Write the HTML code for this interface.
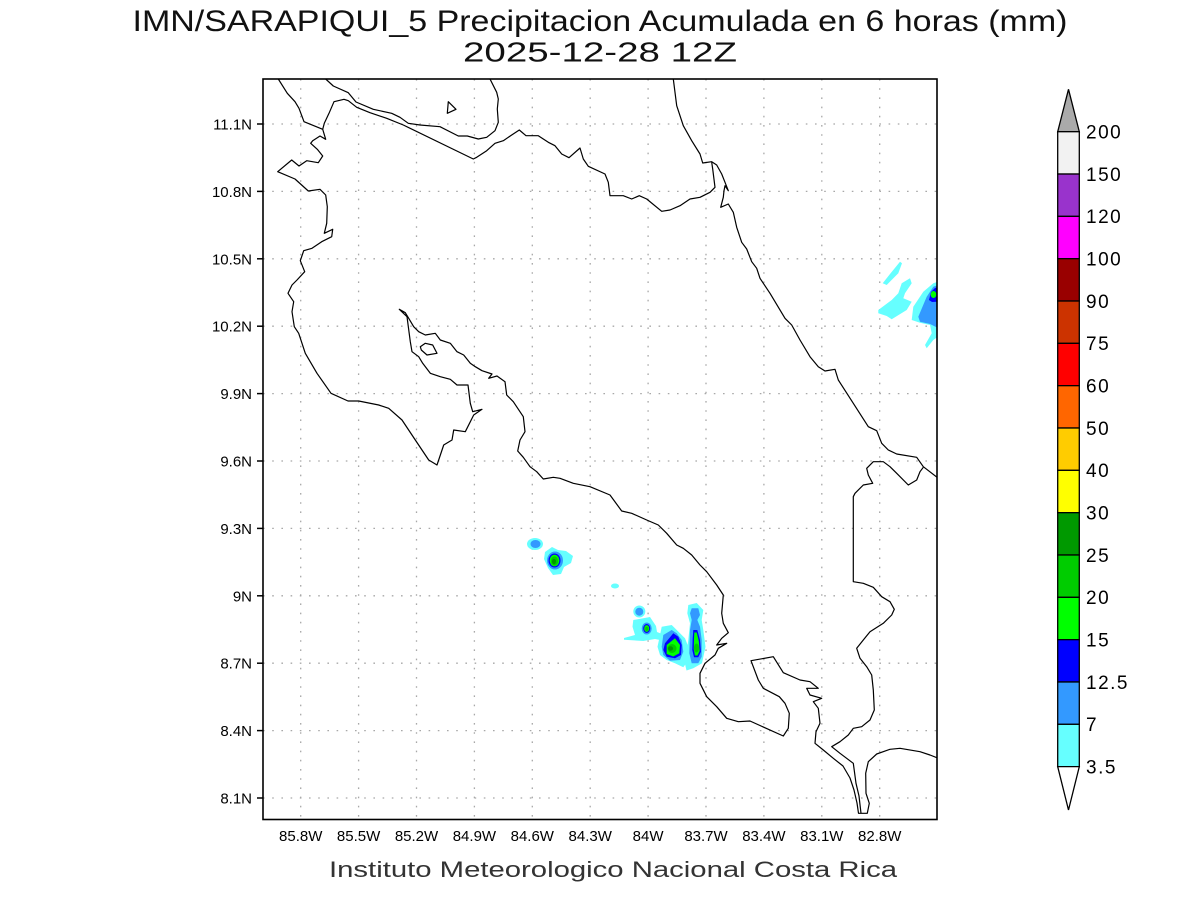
<!DOCTYPE html>
<html>
<head>
<meta charset="utf-8">
<style>
html,body{margin:0;padding:0;background:#fff;}
svg{display:block;}
text{font-family:"Liberation Sans",sans-serif;}
</style>
</head>
<body>
<svg width="1200" height="900" viewBox="0 0 1200 900" xmlns="http://www.w3.org/2000/svg">
<defs>
<clipPath id="plot"><rect x="263" y="79" width="674" height="740.5"/></clipPath>
</defs>
<rect width="1200" height="900" fill="#fff"/>

<!-- Titles -->
<text x="600" y="31" font-size="30" text-anchor="middle" textLength="935" lengthAdjust="spacingAndGlyphs" fill="#111">IMN/SARAPIQUI_5 Precipitacion Acumulada en 6 horas (mm)</text>
<text x="600" y="61.5" font-size="28" text-anchor="middle" textLength="274" lengthAdjust="spacingAndGlyphs" fill="#111">2025-12-28 12Z</text>

<!-- Grid -->
<g stroke="#a8a8a8" stroke-width="1.3" stroke-dasharray="1.6 7.6" fill="none">
<line x1="300.7" y1="79" x2="300.7" y2="820"/>
<line x1="358.6" y1="79" x2="358.6" y2="820"/>
<line x1="416.5" y1="79" x2="416.5" y2="820"/>
<line x1="474.4" y1="79" x2="474.4" y2="820"/>
<line x1="532.3" y1="79" x2="532.3" y2="820"/>
<line x1="590.2" y1="79" x2="590.2" y2="820"/>
<line x1="648.1" y1="79" x2="648.1" y2="820"/>
<line x1="706" y1="79" x2="706" y2="820"/>
<line x1="763.9" y1="79" x2="763.9" y2="820"/>
<line x1="821.8" y1="79" x2="821.8" y2="820"/>
<line x1="879.7" y1="79" x2="879.7" y2="820"/>
<line x1="263" y1="124" x2="937" y2="124"/>
<line x1="263" y1="191.4" x2="937" y2="191.4"/>
<line x1="263" y1="258.8" x2="937" y2="258.8"/>
<line x1="263" y1="326.2" x2="937" y2="326.2"/>
<line x1="263" y1="393.6" x2="937" y2="393.6"/>
<line x1="263" y1="461" x2="937" y2="461"/>
<line x1="263" y1="528.4" x2="937" y2="528.4"/>
<line x1="263" y1="595.8" x2="937" y2="595.8"/>
<line x1="263" y1="663.2" x2="937" y2="663.2"/>
<line x1="263" y1="730.6" x2="937" y2="730.6"/>
<line x1="263" y1="798" x2="937" y2="798"/>
</g>

<!-- Precipitation -->
<g clip-path="url(#plot)">
<!-- blob A -->
<ellipse cx="535" cy="544" rx="8" ry="6" fill="#66ffff"/>
<ellipse cx="535.5" cy="544" rx="5" ry="4" fill="#3399ff"/>
<!-- blob B -->
<path d="M545,552 L552,547 L558,550 L566,551 L573,556 L571,563 L564,567 L561,574 L553,575 L548,568 L544,559 Z" fill="#66ffff"/>
<ellipse cx="555" cy="560.5" rx="8" ry="9" fill="#3399ff"/>
<ellipse cx="554.5" cy="560.5" rx="6" ry="7" fill="#0000ff"/>
<ellipse cx="554.5" cy="560.5" rx="4.8" ry="5.8" fill="#00ff00"/>
<ellipse cx="554.5" cy="561" rx="3.6" ry="4.6" fill="#00cc00"/>
<ellipse cx="554" cy="561.5" rx="2" ry="2.8" fill="#009900"/>
<ellipse cx="615" cy="586" rx="4" ry="2.5" fill="#66ffff"/>

<!-- southern cluster -->
<ellipse cx="639.3" cy="611.5" rx="6" ry="6" fill="#66ffff"/>
<path d="M633.3,620 L650,617 L656,626 L657,632 L662,634 L660,640 L655,639 L643.3,641 L624,639.8 L624,638 L635,635 L632.5,626.7 Z" fill="#66ffff"/>
<path d="M661.7,626.7 L671.7,625 L680,633.3 L685,638.3 L688.3,646.7 L687.3,661.7 L683.3,667.3 L675,663.3 L666.7,660 L660,655 L657.5,646.7 L660,635 Z" fill="#66ffff"/>
<path d="M688.3,605 L696.7,603 L703.3,610 L701.7,620 L703.3,630 L705.5,646.7 L702,663.3 L693.3,668.3 L686.5,670.5 L685,664 L688.3,640 L690,623.3 L687.3,613.3 Z" fill="#66ffff"/>
<ellipse cx="639.3" cy="611.7" rx="4" ry="4" fill="#3399ff"/>
<ellipse cx="646.7" cy="628.5" rx="5" ry="6" fill="#3399ff"/>
<ellipse cx="646.7" cy="628.5" rx="3.5" ry="4.5" fill="#0000ff"/>
<ellipse cx="646.7" cy="628.5" rx="2.5" ry="3.4" fill="#00ff00"/>
<ellipse cx="646.7" cy="628.8" rx="1.5" ry="2.2" fill="#00cc00"/>
<path d="M663.3,635 L671.7,630 L676.7,633.3 L681.7,640 L683.3,651.7 L680,660 L670,660.7 L663.3,655 L661.7,646.7 Z" fill="#3399ff"/>
<path d="M665,643.3 L673.3,633.3 L678.3,636.7 L681.7,645 L681,655 L675,658.3 L666.7,656.7 L663.3,650 Z" fill="#0000ff"/>
<path d="M666.7,645 L675,638.3 L680,645 L679.3,653.3 L673.3,656.5 L666.7,654 Z" fill="#00ff00"/>
<ellipse cx="672" cy="648.5" rx="4.5" ry="4.5" fill="#00cc00"/>
<ellipse cx="670.5" cy="648.5" rx="2.6" ry="2.2" fill="#009900"/>
<path d="M691.7,608.3 L698.3,608.3 L700,615 L697.3,620 L700,626.7 L701.7,640 L701.7,656.7 L698.3,663.3 L691.7,663.3 L689.3,653.3 L690,630 L691.7,620 L690,613.3 Z" fill="#3399ff"/>
<path d="M693.3,630 L697.3,630 L700,640 L701,651.7 L698.3,657.3 L694,657.3 L692.3,650 L692.7,638.3 Z" fill="#0000ff"/>
<path d="M694.3,632.5 L696.7,632.5 L698.8,641 L699.6,651 L697.5,655.5 L695,655.5 L693.7,649 L694,639 Z" fill="#00ff00"/>
<ellipse cx="696.5" cy="648" rx="2.5" ry="4.5" fill="#00cc00"/>

<!-- east precip -->
<path d="M882.7,283.3 L890,274 L900,261.7 L902,263.3 L898.3,273.3 L886.7,285 Z" fill="#66ffff"/>
<path d="M878.3,310 L891.7,300 L898.3,293.3 L901.7,283.3 L910,278.3 L911.7,283.3 L905,293.3 L903.3,298.3 L911.7,301.7 L906.7,310 L891.7,319.3 L886.7,316 L878.3,313.3 Z" fill="#66ffff"/>
<path d="M911.7,320 L913.3,306.7 L923.3,291.7 L933.3,283.3 L938,281.7 L938,336.7 L933.3,340 L926.7,348.3 L925,345 L931.7,333.3 L930,325 L920,322.7 Z" fill="#66ffff"/>
<path d="M918.3,316.7 L926.7,296.7 L933.3,286.7 L938,285 L938,328 L930,324 L920,321.7 Z" fill="#3399ff"/>
<path d="M929,300 L931,292 L935,288 L938,287 L938,301.7 L932,302 Z" fill="#0000ff"/>
<ellipse cx="933.5" cy="294.5" rx="2.8" ry="3.5" fill="#00ff00"/>
</g>

<!-- Coastlines -->
<g clip-path="url(#plot)" fill="none" stroke="#000" stroke-width="1.2" stroke-linejoin="round">
<polyline points="278.3,79 287.3,93.3 295,101.7 299,108.3 304,121.7 322.7,129.3 325.7,139.3 320,136 312.7,140.7 310.7,143.3 317.3,149.3 322.7,156 318.3,162.7 306.7,160.7 299,166 291.7,160 277.7,171.7 295,179 308.3,191 320,189.3 325.7,195 327.3,206.7 326.7,223.3 324.3,233.3 332.7,229.3 331.7,236.7 321.7,241.7 312,248.3 303.7,250.7 300.3,260.7 304.7,271.7 297,280 292,285 288,293.3 293.7,301.7 292,311.7 294.3,326.7 298.7,333.3 305.3,353.3 317,373.3 331,393.3 348,401 358.7,401 378.7,405 388.7,408.3 402,420 415.3,440 428.7,460 437,465 443.7,445 452,440 453.7,430 465.3,431.7 473.7,415 482,409.3 472.7,411.7 470.3,403.3 468,385 457,385 450.3,379.3 440.3,376.7 430.3,373.3 422.7,363.3 418.7,356.7 412,351.7 410.3,341.7 407,316.7 399.3,309.3 405.3,312.7 408.7,318.3 413.7,326.7 418.7,331.7 425.3,335 435.3,333.3 440.3,340 450.3,343.3 457,351.7 463.7,355 470.3,363.3 475.3,366.7 482,370.7 492,374 488.7,378.3 497,376 505,381.7 506.7,395 513.3,401.7 523.3,416.7 525,431.7 520,440 517.7,451 523.3,457.3 530,466.7 536.7,471.7 543.3,479 553.3,477.3 560,478.3 573.3,483.3 590,486.7 610,495 621.7,511 631.7,513.3 646.7,520 658.3,525 666.7,533.3 676.7,545 683.3,548.3 691.7,555 700,565 706.7,571.7 716.7,585 723.3,595 721.7,613.3 723.3,623.3 728.3,632.7 721.7,638.3 716.7,645 726.7,643.3 718.3,648.3 715,655 705,663.3 700,673.3 700,683.3 706.7,696.7 716.7,706.7 726.7,718.3 738.3,721.7 750,721 783.3,736 788.3,728.3 789.3,713.3 785,703.3 779.3,696.7 763.3,688.3 758.3,680 751,660.7 773.3,656.7 783.3,672.7 800,680 810,681.7 818.3,688.3 806.7,688.3 810,695 821.7,698.3 813.3,701.7 818.3,708.3 820,723.3 816,731.7 815,743.3 823.3,750 833.3,758.3 843,766 850,778 854,790 857,803 858.5,813.3 867.3,813.3 869.3,803.3 866,793.3 865.7,773.3 868.3,761.7 876.7,754 890,749.3 900,748.3 920,751.7 930,755 938.3,758.3"/>
<polyline points="923.3,467.3 920,471.7 916.7,480 908.3,485 896.7,473.3 890,466.7 883.3,461.7 873.3,461.7 866.7,468.3 868.3,475 872.7,483.3 863.3,485 855,493.3 853.3,496.7 853.3,581.7 863.3,583.3 873.3,587.3 881.7,596.7 890,601.7 894.3,609.3 891.7,615 883.3,623.3 870,631.7 863.3,640 856.7,648.3 860,658.3 866.7,666.7 871.7,675 873.3,690 874.3,710 870,720 861.7,726.7 853.3,728.3 848.3,735 840,741.7 831.7,746.7 840,753.3 853.3,763.3 856,783.3 859,796 861,813.3"/>
<polyline points="673.3,79 676.7,105.7 683.3,125.7 691.7,140.7 700,154 702.7,163 711.7,161.7 716.7,165 721.7,174 725,182.3 728.3,190.7 725,185.7 724,190.7 723.3,197.3 720.7,207.3 728.3,204 733.3,212.3 736.7,227.3 741.7,242.3 746.7,249 751.7,261.7 756.7,268.3 760,278.3 770,293.3 785,318.3 791.7,325 800,340 810,356.7 818.3,366.7 825,371 835,369.3 838.3,380 853.3,403.3 868.3,426.7 876.7,430.7 881.7,443.3 888.3,450 896.7,454 916.7,457.3 923.3,466.7 938.3,478.3"/>
<polyline points="322.7,129.3 324.3,123.3 329,113.3 334,101.7 344,99.3 348.3,100.7 356.7,107.3 370,112.7 386.7,118.3 403.3,125 473.3,159 476.7,157.3 486.7,150.7 495,143.3 503.3,140.7 511.7,135 519.3,130 526,135.7 538.3,135.7 548.3,142.3 555,145.7 561.7,154 569,157.7 580,148 583.3,159 588.3,166.3 605,174 608.3,182.3 610,195.7 623.3,195.7 631.7,199 639.3,195.7 646.7,199 661.7,211.3 670,210 680,205.7 690,199 700,197.3 710,192.3 715,187.3 712.7,169 711.7,162.3"/>
<polyline points="325.7,79 333.3,86 348.3,92.7 356,102 373.3,109.3 391.7,113.3 400,117.3 408.3,123.3 420,125 440,126.7 458.3,136 467.3,136 478.3,139 486.7,137.3 495,130.7 498.3,122.3 497.3,109 498.3,99 496.7,92.3 490,79"/>
<polygon points="448.3,101.7 456,109.3 447.3,113.3"/>
<polygon points="420.3,346.7 425.3,343.3 432.7,345 437,353.3 427,355 421.3,350"/>
</g>

<!-- Frame -->
<rect x="263" y="79" width="674" height="740.5" fill="none" stroke="#000" stroke-width="1.6"/>

<!-- Y ticks & labels -->
<g stroke="#000" stroke-width="1.5">
<line x1="257" y1="124" x2="263" y2="124"/>
<line x1="257" y1="191.4" x2="263" y2="191.4"/>
<line x1="257" y1="258.8" x2="263" y2="258.8"/>
<line x1="257" y1="326.2" x2="263" y2="326.2"/>
<line x1="257" y1="393.6" x2="263" y2="393.6"/>
<line x1="257" y1="461" x2="263" y2="461"/>
<line x1="257" y1="528.4" x2="263" y2="528.4"/>
<line x1="257" y1="595.8" x2="263" y2="595.8"/>
<line x1="257" y1="663.2" x2="263" y2="663.2"/>
<line x1="257" y1="730.6" x2="263" y2="730.6"/>
<line x1="257" y1="798" x2="263" y2="798"/>
</g>
<g font-size="15" text-anchor="end" fill="#000">
<text x="252" y="129.5">11.1N</text>
<text x="252" y="196.9">10.8N</text>
<text x="252" y="264.3">10.5N</text>
<text x="252" y="331.7">10.2N</text>
<text x="252" y="399.1">9.9N</text>
<text x="252" y="466.5">9.6N</text>
<text x="252" y="533.9">9.3N</text>
<text x="252" y="601.3">9N</text>
<text x="252" y="668.7">8.7N</text>
<text x="252" y="736.1">8.4N</text>
<text x="252" y="803.5">8.1N</text>
</g>
<g font-size="15" text-anchor="middle" fill="#000">
<text x="300.7" y="841">85.8W</text>
<text x="358.6" y="841">85.5W</text>
<text x="416.5" y="841">85.2W</text>
<text x="474.4" y="841">84.9W</text>
<text x="532.3" y="841">84.6W</text>
<text x="590.2" y="841">84.3W</text>
<text x="648.1" y="841">84W</text>
<text x="706" y="841">83.7W</text>
<text x="763.9" y="841">83.4W</text>
<text x="821.8" y="841">83.1W</text>
<text x="879.7" y="841">82.8W</text>
</g>

<text x="613" y="877" font-size="22" text-anchor="middle" textLength="568" lengthAdjust="spacingAndGlyphs" fill="#333">Instituto Meteorologico Nacional Costa Rica</text>

<!-- Colorbar -->
<g stroke="#000" stroke-width="1.3">
<polygon points="1068.5,89.3 1079.3,131.7 1057.7,131.7" fill="#aaaaaa"/>
<rect x="1057.7" y="131.7" width="21.6" height="42.33" fill="#f2f2f2"/>
<rect x="1057.7" y="174.03" width="21.6" height="42.33" fill="#9933cc"/>
<rect x="1057.7" y="216.36" width="21.6" height="42.33" fill="#ff00ff"/>
<rect x="1057.7" y="258.69" width="21.6" height="42.33" fill="#990000"/>
<rect x="1057.7" y="301.02" width="21.6" height="42.33" fill="#cc3300"/>
<rect x="1057.7" y="343.35" width="21.6" height="42.33" fill="#ff0000"/>
<rect x="1057.7" y="385.68" width="21.6" height="42.33" fill="#ff6600"/>
<rect x="1057.7" y="428.01" width="21.6" height="42.33" fill="#ffcc00"/>
<rect x="1057.7" y="470.34" width="21.6" height="42.33" fill="#ffff00"/>
<rect x="1057.7" y="512.67" width="21.6" height="42.33" fill="#009900"/>
<rect x="1057.7" y="555" width="21.6" height="42.33" fill="#00cc00"/>
<rect x="1057.7" y="597.33" width="21.6" height="42.33" fill="#00ff00"/>
<rect x="1057.7" y="639.66" width="21.6" height="42.33" fill="#0000ff"/>
<rect x="1057.7" y="681.99" width="21.6" height="42.33" fill="#3399ff"/>
<rect x="1057.7" y="724.32" width="21.6" height="42.33" fill="#66ffff"/>
<polygon points="1057.7,766.65 1079.3,766.65 1068.5,810" fill="#ffffff"/>
</g>
<g font-size="19" letter-spacing="1.5" fill="#000">
<text x="1086" y="138.5">200</text>
<text x="1086" y="180.8">150</text>
<text x="1086" y="223.2">120</text>
<text x="1086" y="265.5">100</text>
<text x="1086" y="307.8">90</text>
<text x="1086" y="350.2">75</text>
<text x="1086" y="392.5">60</text>
<text x="1086" y="434.8">50</text>
<text x="1086" y="477.1">40</text>
<text x="1086" y="519.5">30</text>
<text x="1086" y="561.8">25</text>
<text x="1086" y="604.1">20</text>
<text x="1086" y="646.5">15</text>
<text x="1086" y="688.8">12.5</text>
<text x="1086" y="731.1">7</text>
<text x="1086" y="773.5">3.5</text>
</g>
</svg>
</body>
</html>
